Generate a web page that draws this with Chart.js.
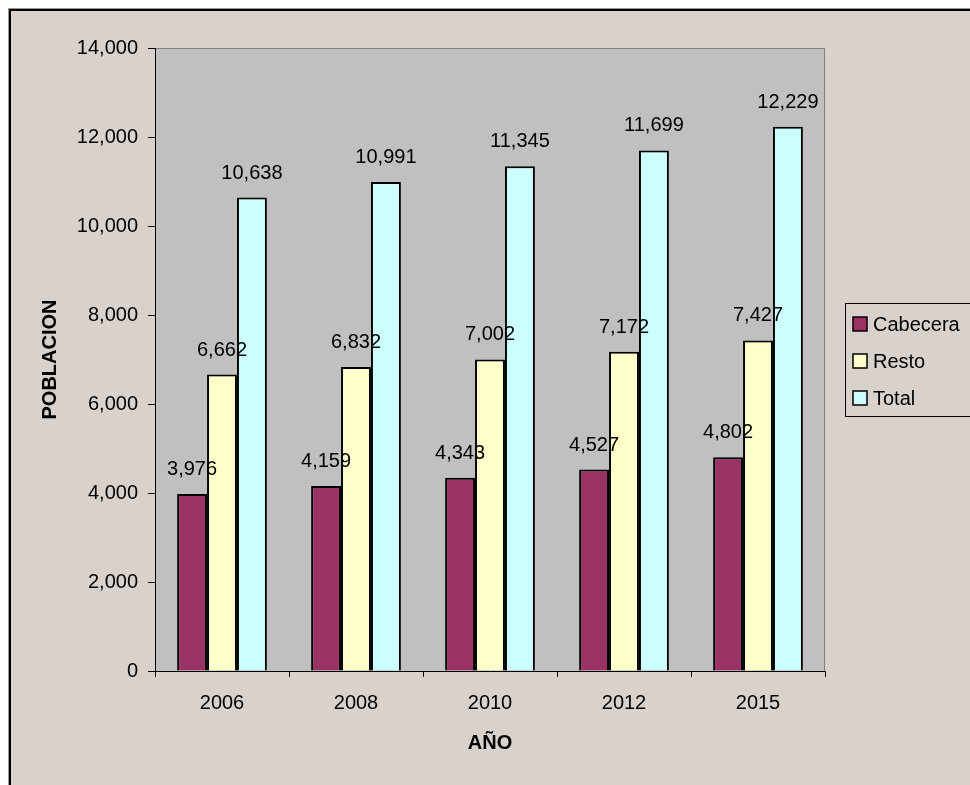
<!DOCTYPE html>
<html>
<head>
<meta charset="utf-8">
<script src="https://cdn.jsdelivr.net/npm/chart.js@4.4.1/dist/chart.umd.min.js"></script>
<style>
	html, body { margin: 0; padding: 0; background: #ffffff; }
	#wrap { width: 970px; height: 785px; position: relative; }
</style>
</head>
<body>
<div id="wrap"><canvas id="poblacion"></canvas></div>
<script>
const years = ['2006', '2008', '2010', '2012', '2015'];
const cabecera = [3976, 4159, 4343, 4527, 4802];
const resto = [6662, 6832, 7002, 7172, 7427];
const total = [10638, 10991, 11345, 11699, 12229];

const FONT = 'Arial, "Liberation Sans", sans-serif';
const fmt = v => Number(v).toLocaleString('en-US');

// frame, plot background, value labels and legend box
const excelLook = {
	id: 'excelLook',
	beforeDraw(chart) {
		const ctx = chart.ctx;
		const { width, height } = chart;
		ctx.save();
		ctx.fillStyle = '#ffffff';
		ctx.fillRect(0, 0, width, height);
		ctx.fillStyle = '#9a9a9a';
		ctx.fillRect(8, 8, width, height);
		ctx.fillStyle = '#000000';
		ctx.fillRect(9, 9, width, height);
		ctx.fillStyle = '#d9d2cc';
		ctx.fillRect(11, 11, width, height);

		const a = chart.chartArea;
		ctx.fillStyle = '#c0c0c0';
		ctx.fillRect(a.left, a.top, a.right - a.left, a.bottom - a.top);
		ctx.strokeStyle = '#808080';
		ctx.lineWidth = 1;
		ctx.beginPath();
		ctx.moveTo(a.left, a.top + 0.5);
		ctx.lineTo(a.right - 0.5, a.top + 0.5);
		ctx.lineTo(a.right - 0.5, a.bottom);
		ctx.stroke();
		ctx.restore();
	},
	afterDatasetsDraw(chart) {
		const ctx = chart.ctx;
		ctx.save();
		ctx.font = '20px ' + FONT;
		ctx.fillStyle = '#000000';
		ctx.textAlign = 'center';
		ctx.textBaseline = 'alphabetic';
		chart.data.datasets.forEach((ds, i) => {
			chart.getDatasetMeta(i).data.forEach((bar, j) => {
				ctx.fillText(fmt(ds.data[j]), bar.x, bar.y - 19);
			});
		});

		// legend
		const lx = 845, ly = 303, lw = 140, lh = 113;
		ctx.strokeStyle = '#000000';
		ctx.lineWidth = 1;
		ctx.strokeRect(lx + 0.5, ly + 0.5, lw, lh);
		ctx.textAlign = 'left';
		ctx.textBaseline = 'middle';
		chart.data.datasets.forEach((ds, i) => {
			const y = ly + 21 + i * 37;
			ctx.fillStyle = ds.backgroundColor;
			ctx.fillRect(853, y - 7, 14, 14);
			ctx.lineWidth = 1.5;
			ctx.strokeRect(853, y - 7, 14, 14);
			ctx.fillStyle = '#000000';
			ctx.fillText(ds.label, 873, y + 1);
		});
		ctx.restore();
	}
};

new Chart(document.getElementById('poblacion'), {
	type: 'bar',
	data: {
		labels: years,
		datasets: [
			{ label: 'Cabecera', data: cabecera, backgroundColor: '#993366' },
			{ label: 'Resto', data: resto, backgroundColor: '#ffffcc' },
			{ label: 'Total', data: total, backgroundColor: '#ccffff' }
		]
	},
	options: {
		responsive: true,
		maintainAspectRatio: false,
		animation: false,
		layout: { padding: { top: 48, right: 145, left: 0, bottom: 0 } },
		datasets: {
			bar: {
				borderColor: '#000000',
				borderWidth: 2,
				categoryPercentage: 0.67,
				barPercentage: 1
			}
		},
		scales: {
			x: {
				afterFit(scale) { scale.height = 114; },
				grid: { display: true, drawOnChartArea: false, tickLength: 6, color: '#000000', offset: true },
				border: { color: '#000000', width: 1 },
				ticks: { color: '#000000', padding: 14, font: { family: FONT, size: 20 } },
				title: {
					display: true,
					text: 'AÑO',
					color: '#000000',
					padding: { top: 0, bottom: 30 },
					font: { family: FONT, size: 20, weight: 'bold' }
				}
			},
			y: {
				min: 0,
				max: 14000,
				afterFit(scale) { scale.width = 155; },
				grid: { display: true, drawOnChartArea: false, tickLength: 7, color: '#000000' },
				border: { color: '#000000', width: 1 },
				ticks: {
					stepSize: 2000,
					color: '#000000',
					padding: 10,
					font: { family: FONT, size: 20 },
					callback: v => fmt(v)
				},
				title: {
					display: true,
					text: 'POBLACION',
					color: '#000000',
					padding: { top: 38, bottom: 0 },
					font: { family: FONT, size: 20, weight: 'bold' }
				}
			}
		},
		plugins: {
			legend: { display: false },
			tooltip: { enabled: false }
		}
	},
	plugins: [excelLook]
});
</script>
</body>
</html>
